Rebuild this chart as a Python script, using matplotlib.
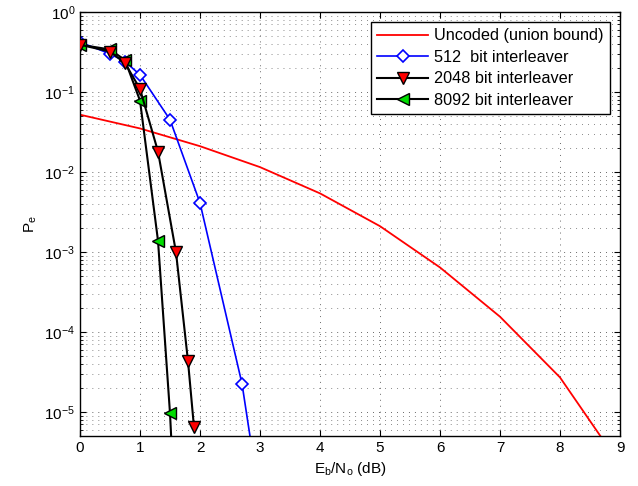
import matplotlib
matplotlib.use("Agg")
import matplotlib.pyplot as plt
from matplotlib.ticker import LogLocator, NullFormatter

plt.rcParams['font.family'] = ['Liberation Sans', 'DejaVu Sans']
plt.rcParams['mathtext.default'] = 'regular'
plt.rcParams['font.size'] = 11
plt.rcParams['lines.scale_dashes'] = False

# Eb/No (dB) and error probabilities
ebno_unc = [0, 1, 2, 3, 4, 5, 6, 7, 8, 9]
pe_unc = [0.052, 0.035, 0.021, 0.0115, 0.0054, 0.0021, 6.4e-4, 1.55e-4, 2.7e-5, 2.2e-6]

ebno_512 = [0, 0.5, 0.75, 1.0, 1.5, 2.0, 2.7, 3.0]
pe_512 = [0.42, 0.30, 0.24, 0.164, 0.045, 0.0041, 2.25e-5, 7.5e-7]

ebno_2048 = [0, 0.5, 0.75, 1.0, 1.3, 1.6, 1.8, 1.9]
pe_2048 = [0.39, 0.32, 0.23, 0.109, 0.018, 9.9e-4, 4.3e-5, 6.4e-6]

ebno_8092 = [0, 0.5, 0.75, 1.0, 1.3, 1.5, 1.6]
pe_8092 = [0.39, 0.34, 0.25, 0.078, 1.38e-3, 9.6e-6, 3e-7]

fig = plt.figure(figsize=(6.38, 4.86), dpi=100)
ax = fig.add_axes([0.1254, 0.1029, 0.8464, 0.8724])

ax.semilogy(ebno_unc, pe_unc, color='red', lw=1.3, label='Uncoded (union bound)')
ax.semilogy(ebno_512, pe_512, color='blue', lw=1.2, marker='D', ms=6.5,
            mfc='white', mec='blue', mew=1.2, label='512  bit interleaver')
ax.semilogy(ebno_2048, pe_2048, color='black', lw=1.5, marker='v', ms=9,
            mfc='red', mec='black', mew=1.0, label='2048 bit interleaver', zorder=4)
ax.semilogy(ebno_8092, pe_8092, color='black', lw=1.5, marker='<', ms=9,
            mfc='#00dd00', mec='black', mew=1.0, label='8092 bit interleaver', zorder=3)

ax.set_xlim(0, 9)
ax.set_ylim(5e-6, 1)
ax.set_xticks(range(10))
ax.yaxis.set_major_locator(LogLocator(base=10, numticks=10))
ax.yaxis.set_minor_locator(LogLocator(base=10, subs=range(2, 10), numticks=20))
ax.yaxis.set_minor_formatter(NullFormatter())

dots = (0, (0.6, 3.7))
ax.grid(True, which='major', linestyle=dots, color='#222222', lw=0.55)
ax.grid(True, which='minor', axis='y', linestyle=dots, color='#444444', lw=0.5)
ax.tick_params(which='both', direction='in', top=True, right=True, labelsize=11)
ax.tick_params(which='major', length=4)
ax.tick_params(which='minor', length=2)
for s in ax.spines.values():
    s.set_linewidth(1.0)

ax.set_xlabel('E$_b$/N$_o$ (dB)', fontsize=11)
ax.set_ylabel('P$_e$', fontsize=11)

leg = ax.legend(loc='upper right', fancybox=False, edgecolor='black', framealpha=1,
                borderaxespad=0.6, handlelength=3.1, labelspacing=0.4, fontsize=11.7,
                borderpad=0.4, handletextpad=0.4)
leg.get_frame().set_linewidth(1.0)

fig.savefig('out.png', dpi=100)
